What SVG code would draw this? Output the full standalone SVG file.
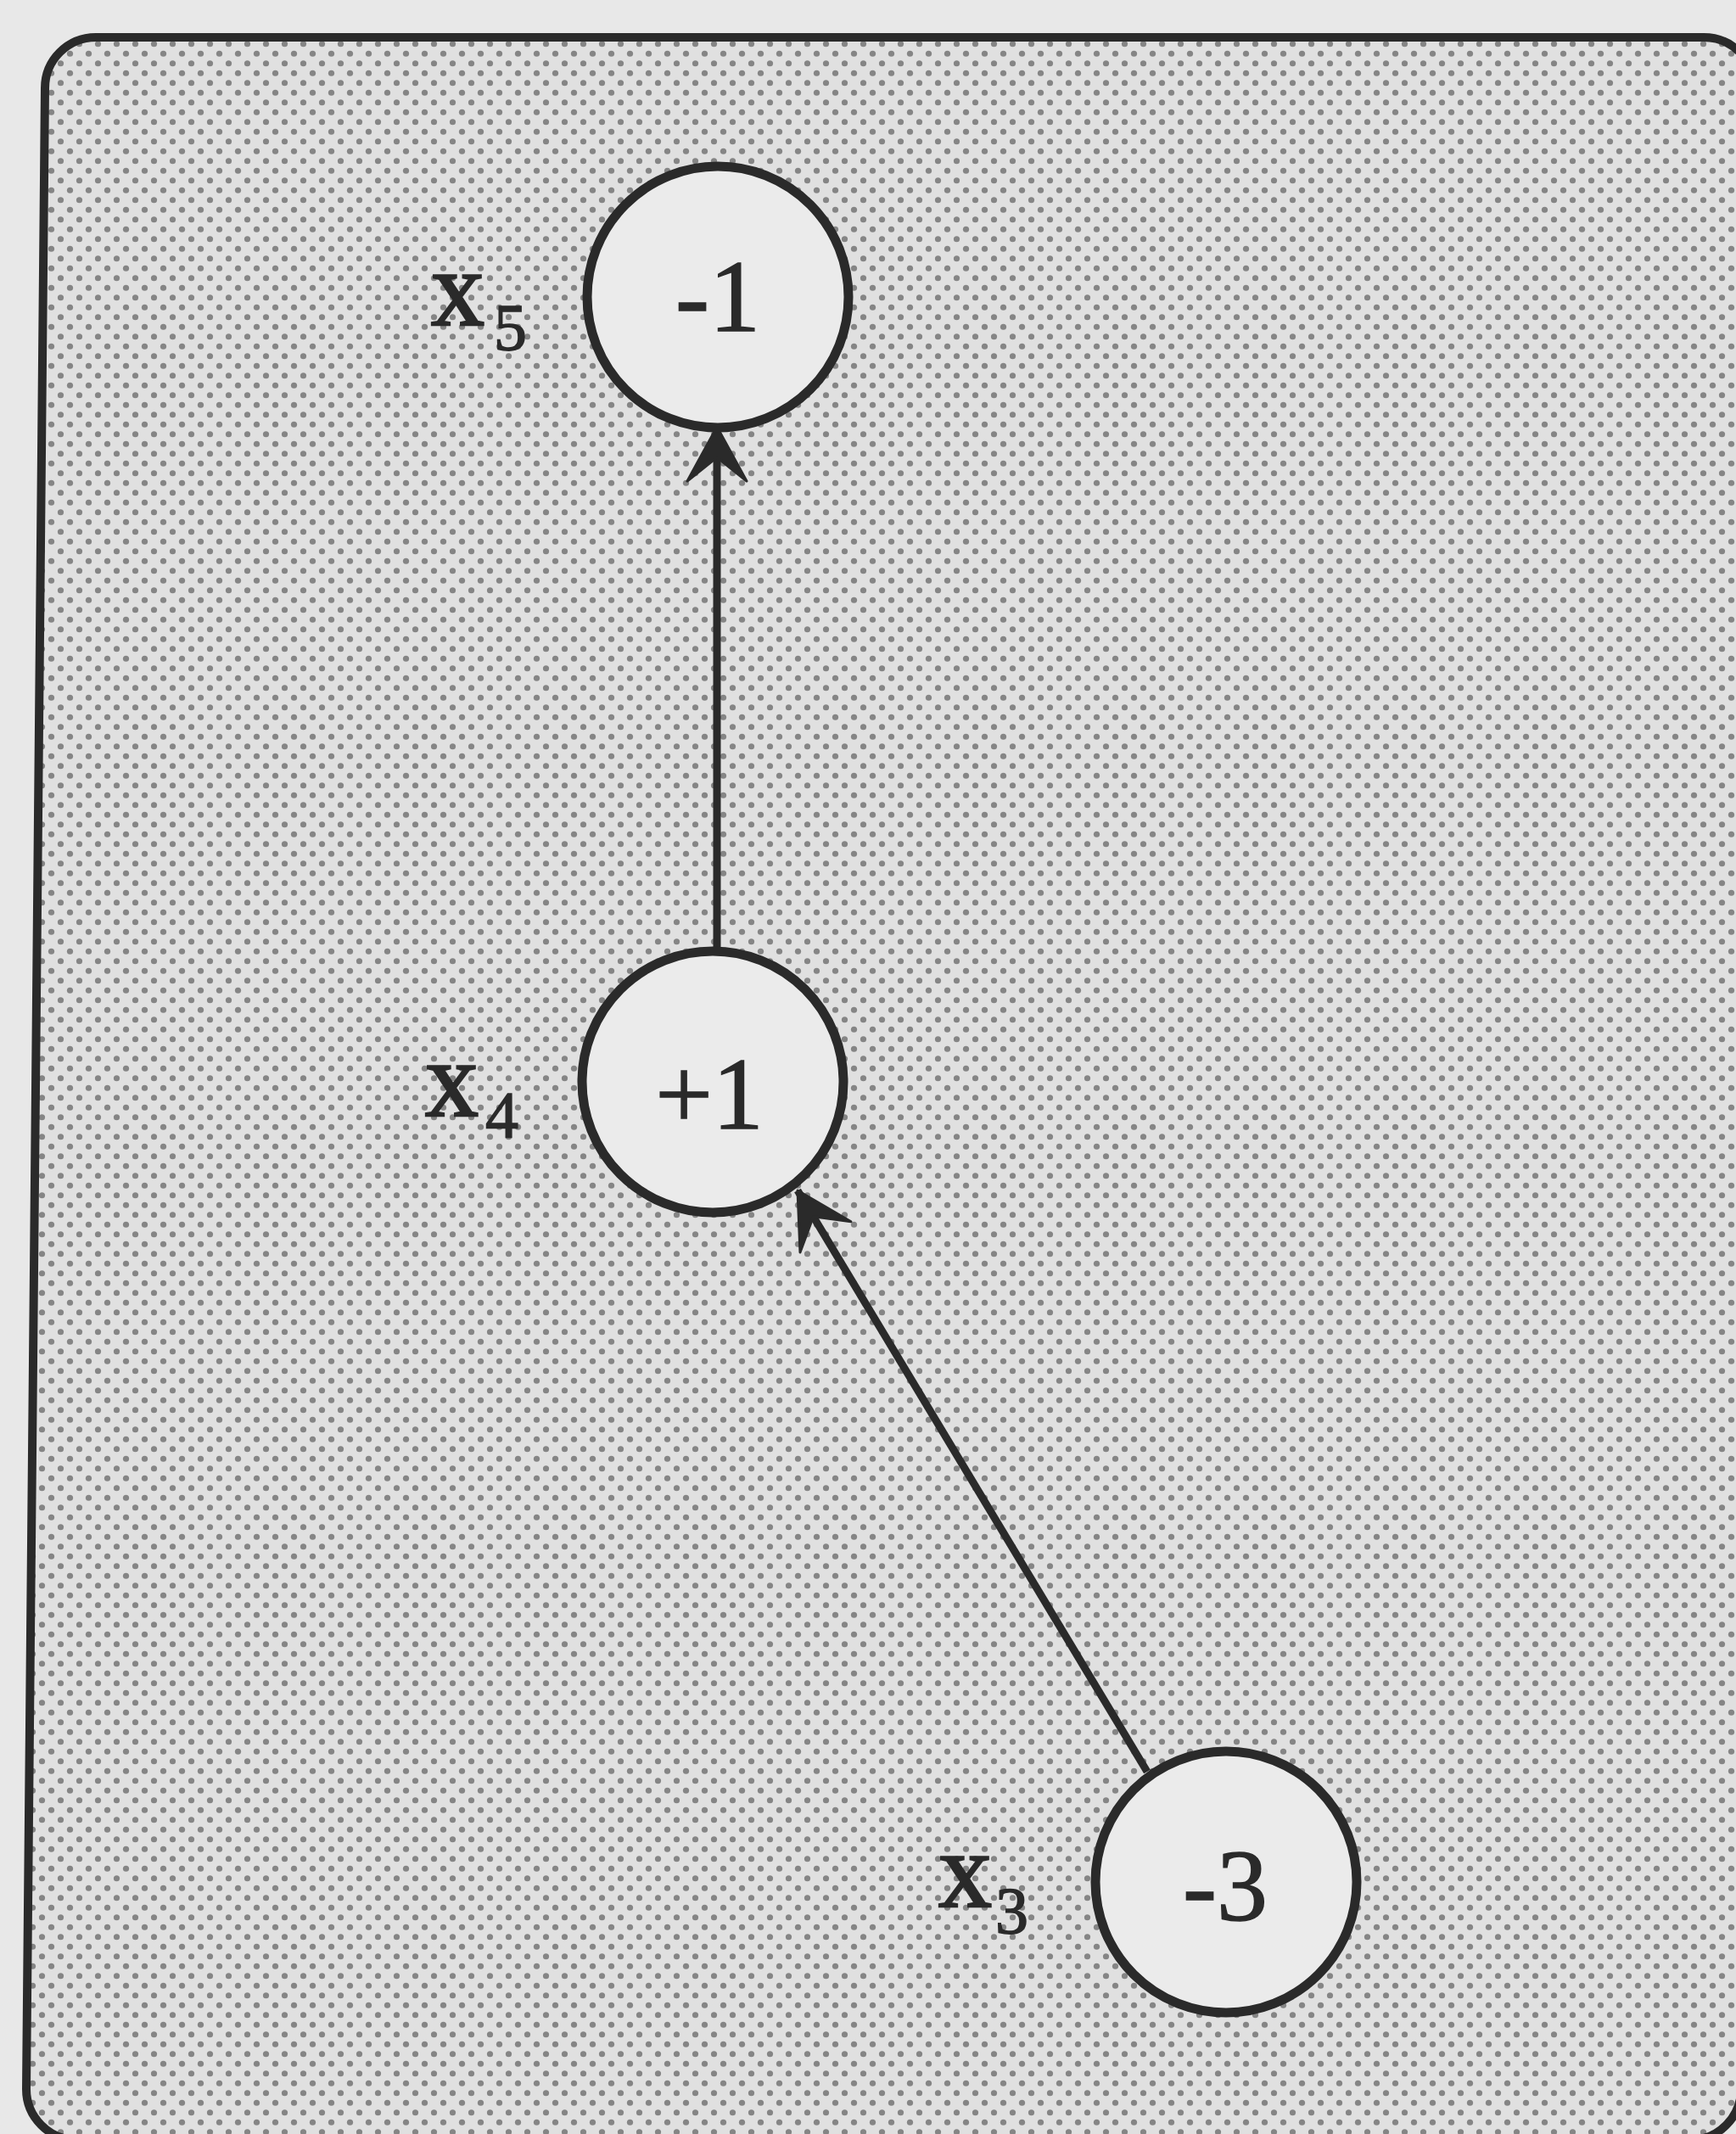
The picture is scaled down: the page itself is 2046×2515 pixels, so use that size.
<svg xmlns="http://www.w3.org/2000/svg" width="2046" height="2515" viewBox="0 0 2046 2515">
  <style>
    .node { fill: #ebebeb; stroke: #2a2a2a; stroke-width: 11; }
    .val { font-family: "Liberation Serif", "Times New Roman", serif; font-size: 120px; fill: #2a2a2a; stroke: #2a2a2a; stroke-width: 1.5; text-anchor: middle; }
    .lbl { font-family: "Liberation Serif", "Times New Roman", serif; font-size: 126px; fill: #2a2a2a; stroke: #2a2a2a; stroke-width: 2.5; }
    .sub { font-family: "Liberation Serif", "Times New Roman", serif; font-size: 78px; fill: #2a2a2a; stroke: #2a2a2a; stroke-width: 1.5; }
    .edge { stroke: #2a2a2a; stroke-width: 9; fill: none; }
  </style>
  <defs>
    <pattern id="dots" x="0" y="0" width="22" height="23" patternUnits="userSpaceOnUse">
      <rect width="22" height="23" fill="#e0e0e0"/>
      <circle cx="5.5" cy="5.75" r="3.6" fill="#858585"/>
      <circle cx="16.5" cy="17.25" r="3.6" fill="#858585"/>
    </pattern>
    <marker id="arrow" markerUnits="userSpaceOnUse" markerWidth="90" markerHeight="90" viewBox="-80 -45 90 90" refX="0" refY="0" orient="auto" overflow="visible">
      <path d="M0,0 L-64,-35 L-36,0 L-64,35 Z" fill="#2a2a2a" stroke="#2a2a2a" stroke-width="3" stroke-linejoin="round"/>
    </marker>
  </defs>
  <rect x="0" y="0" width="2046" height="2515" fill="#e8e8e8"/>
  <g id="frame">
    <path d="M113,44 L2008,44 A60,60 0 0 1 2068,104 L2052,2462 A60,60 0 0 1 1992,2522 L91,2522 A60,60 0 0 1 31,2462 L53,104 A60,60 0 0 1 113,44 Z" fill="url(#dots)" stroke="#2a2a2a" stroke-width="10"/>
  </g>
  <g id="connectors">
    <line class="edge" x1="845" y1="1116" x2="845" y2="503" marker-end="url(#arrow)"/>
    <line class="edge" x1="1352" y1="2088" x2="940" y2="1403" marker-end="url(#arrow)"/>
  </g>
  <g id="node-x5">
    <circle class="node" cx="846" cy="350" r="154"/>
    <text class="val" x="846" y="390">-1</text>
    <text class="lbl" x="508" y="383">x</text>
    <text class="sub" x="582" y="412">5</text>
  </g>
  <g id="node-x4">
    <circle class="node" cx="840" cy="1275" r="154"/>
    <text class="val" x="836" y="1330">+1</text>
    <text class="lbl" x="501" y="1315">x</text>
    <text class="sub" x="572" y="1340">4</text>
  </g>
  <g id="node-x3">
    <circle class="node" cx="1445" cy="2218" r="154"/>
    <text class="val" x="1444" y="2263">-3</text>
    <text class="lbl" x="1106" y="2247">x</text>
    <text class="sub" x="1173" y="2278">3</text>
  </g>
</svg>
